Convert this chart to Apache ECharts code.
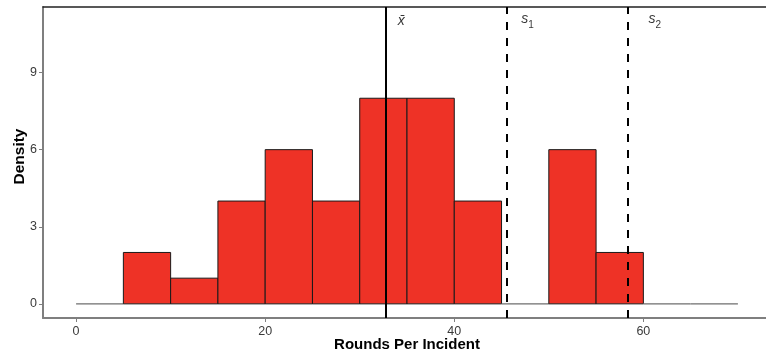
<!DOCTYPE html>
<html><head><meta charset="utf-8">
<script src="https://cdn.jsdelivr.net/npm/echarts@6/dist/echarts.min.js"></script>
<style>html,body{margin:0;padding:0;background:#fff}#c{width:766px;height:356px}</style>
</head><body><div id="c"></div>
<script>
// Data
const binStarts = [0,5,10,15,20,25,30,35,40,45,50,55,60,65];
const binWidth = 5;
const counts = [0,2,1,4,6,4,8,8,4,0,6,2,0,0];
const meanValue = 32.7;
const sd1Value = 45.55;
const sd2Value = 58.4;
const xTicks = [0,20,40,60];
const yTicks = [0,3,6,9];
const refLabels = ['{m|x̄}','{s|s}{sub|1}','{s|s}{sub|2}'];

const histData = binStarts.map((s,i)=>[s, s+binWidth, counts[i]]);
const FONT = 'Liberation Sans, Arial, Helvetica, sans-serif';

const chart = echarts.init(document.getElementById('c'), null, {renderer:'canvas'});
chart.setOption({
  animation:false,
  backgroundColor:'#fff',
  grid:{left:43, right:-5, top:7, bottom:38, containLabel:false, outerBoundsMode:'none'},
  xAxis:[{
    type:'value', min:-3.5, max:73.5,
    name:'Rounds Per Incident', nameLocation:'middle', nameGap:19, nameMoveOverlap:false,
    nameTextStyle:{fontFamily:FONT, fontSize:15, fontWeight:'bold', color:'#000'},
    axisLine:{show:true, onZero:false, lineStyle:{color:'#7f7f7f', width:2}},
    axisTick:{show:true, length:4, customValues:xTicks, lineStyle:{color:'#7f7f7f', width:1}},
    axisLabel:{customValues:xTicks, fontFamily:FONT, fontSize:12.5, color:'#3a3a3a', margin:7},
    splitLine:{show:false}
  },{
    type:'value', position:'top', min:-3.5, max:73.5,
    axisLine:{show:true, onZero:false, lineStyle:{color:'#222', width:1.5}},
    axisTick:{show:false}, axisLabel:{show:false}, splitLine:{show:false}
  }],
  yAxis:{
    type:'value', min:-0.55, max:11.55,
    name:'Density', nameLocation:'middle', nameGap:15, nameMoveOverlap:false,
    nameTextStyle:{fontFamily:FONT, fontSize:15.5, fontWeight:'bold', color:'#000', padding:[0,0,0,12]},
    axisLine:{show:true, onZero:false, lineStyle:{color:'#7f7f7f', width:2}},
    axisTick:{show:true, length:4, customValues:yTicks, lineStyle:{color:'#7f7f7f', width:1}},
    axisLabel:{customValues:yTicks, fontFamily:FONT, fontSize:12.5, color:'#3a3a3a', margin:6},
    splitLine:{show:false}
  },
  series:[{
    type:'custom',
    renderItem:function(params, api){
      const x0 = api.value(0), x1 = api.value(1), h = api.value(2);
      const p0 = api.coord([x0, 0]);
      const p1 = api.coord([x1, h]);
      if (h === 0) {
        return {type:'line', shape:{x1:p0[0], y1:p0[1], x2:p1[0], y2:p0[1]},
          style:{stroke:'#6e6e6e', lineWidth:1.3}};
      }
      return {type:'rect', shape:{x:p0[0], y:p1[1], width:p1[0]-p0[0], height:p0[1]-p1[1]},
        style:{fill:'#EE3226', stroke:'#1a1a1a', lineWidth:1}};
    },
    encode:{x:[0,1], y:2},
    data:histData,
    z:2
  },{
    type:'line', data:[], silent:true,
    markLine:{
      symbol:['none','none'], silent:true, label:{show:false},
      data:[
        {xAxis:meanValue, lineStyle:{color:'#000', width:2, type:'solid'}},
        {xAxis:sd1Value, lineStyle:{color:'#000', width:2, type:[8,8]}},
        {xAxis:sd2Value, lineStyle:{color:'#000', width:2, type:[8,8]}}
      ]
    },
    z:5
  },{
    type:'scatter', symbolSize:0, silent:true,
    data:[[meanValue+1.7, 11.0, refLabels[0]],[sd1Value+2.2, 11.0, refLabels[1]],[sd2Value+2.8, 11.0, refLabels[2]]],
    label:{show:true, position:'inside', formatter:p=>p.value[2],
      rich:{
        m:{fontFamily:FONT, fontStyle:'italic', fontSize:14, color:'#000'},
        s:{fontFamily:FONT, fontStyle:'italic', fontSize:14, color:'#000', verticalAlign:'top', lineHeight:18},
        sub:{fontFamily:FONT, fontSize:10, color:'#000', verticalAlign:'bottom', lineHeight:18}
      }},
    z:6
  }]
});
</script></body></html>
